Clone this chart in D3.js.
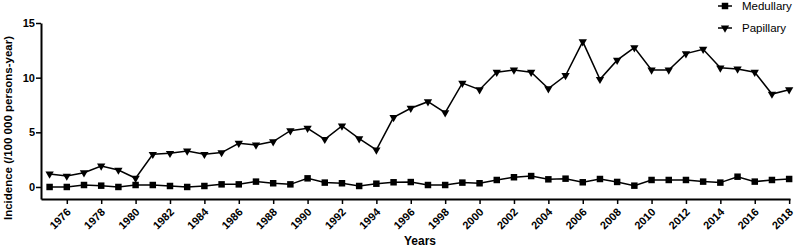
<!DOCTYPE html>
<html>
<head>
<meta charset="utf-8">
<script src="https://cdn.jsdelivr.net/npm/d3@7"></script>
<style>
  body { margin: 0; background: #fff; }
  svg { font-family: "Liberation Sans", Arial, sans-serif; }
</style>
</head>
<body>
<svg id="chart" width="800" height="248"></svg>
<script>
// incidence per 100 000 persons-year
const years = d3.range(1975, 2019)
const medullary = [0, 0, 0.18, 0.12, 0, 0.18, 0.18, 0.09, 0, 0.09,
                   0.24, 0.24, 0.49, 0.34, 0.24, 0.79, 0.4, 0.34, 0.09, 0.3,
                   0.43, 0.45, 0.18, 0.18, 0.4, 0.34, 0.64, 0.89, 1.0, 0.7,
                   0.76, 0.43, 0.73, 0.46, 0.12, 0.64, 0.64, 0.64, 0.49, 0.4,
                   0.94, 0.49, 0.64, 0.73]
const papillary = [1.19, 1.0, 1.3, 1.92, 1.55, 0.8, 2.99, 3.08, 3.29, 2.99,
                   3.15, 4.0, 3.84, 4.15, 5.15, 5.37, 4.36, 5.58, 4.42, 3.39,
                   6.37, 7.2, 7.8, 6.8, 9.5, 8.9, 10.5, 10.7, 10.5, 9.0,
                   10.2, 13.3, 9.85, 11.6, 12.75, 10.7, 10.7, 12.2, 12.6, 10.9,
                   10.8, 10.5, 8.5, 8.9]
const xTicks = d3.range(1976, 2019, 2)
const yTicks = [0, 5, 10, 15]

const svg = d3.select("#chart")

const x = d3.scaleLinear().domain([1974.5, 2018.05]).range([41, 790])
const y = d3.scaleLinear().domain([-1.1, 15]).range([199, 23])

// axes
const xAxis = svg.append("g")
    .attr("transform", "translate(0,199)")
    .call(d3.axisBottom(x).tickValues(xTicks).tickFormat("").tickSize(5).tickSizeOuter(0))
xAxis.select(".domain").attr("stroke-width", 2)
xAxis.selectAll(".tick line").attr("stroke-width", 1.5)

// rotated year labels, ending just under each tick
svg.append("g")
    .selectAll("text")
    .data(xTicks)
    .enter()
    .append("text")
    .attr("transform", d => "translate(" + (x(d) + 2) + ",210) rotate(-45)")
    .attr("text-anchor", "end")
    .attr("dy", "0.35em")
    .attr("font-size", 11)
    .attr("font-weight", "bold")
    .text(d => d)

const yAxis = svg.append("g")
    .attr("transform", "translate(41,0)")
    .call(d3.axisLeft(y).tickValues(yTicks).tickSize(5).tickSizeOuter(0))
yAxis.select(".domain").attr("stroke-width", 2)
yAxis.selectAll(".tick line").attr("stroke-width", 1.5)
yAxis.selectAll(".tick text")
    .attr("font-size", 11)
    .attr("font-weight", "bold")
    .attr("x", -6)

// axis titles
svg.append("text")
    .attr("x", 404)
    .attr("y", 245)
    .attr("font-size", 12)
    .attr("font-weight", "bold")
    .text("Years")

svg.append("text")
    .attr("transform", "translate(12,128) rotate(-90)")
    .attr("text-anchor", "middle")
    .attr("font-size", 11.5)
    .attr("font-weight", "bold")
    .text("Incidence (/100 000 persons-year)")

// series
const series = [
    {name: "Medullary", values: medullary, symbol: d3.symbolSquare, size: 42, rotate: 0},
    {name: "Papillary", values: papillary, symbol: d3.symbolTriangle, size: 30, rotate: 180}
]

const line = d3.line()
    .x((d, i) => x(years[i]))
    .y(d => y(d))

series.forEach(function (s, k) {
    svg.append("path")
        .attr("d", line(s.values))
        .attr("fill", "none")
        .attr("stroke", "#000")
        .attr("stroke-width", 1.5)

    svg.append("g")
        .selectAll("path")
        .data(s.values)
        .enter()
        .append("path")
        .attr("d", d3.symbol().type(s.symbol).size(s.size))
        .attr("transform", (d, i) => "translate(" + x(years[i]) + "," + y(d) + ") rotate(" + s.rotate + ")")
        .attr("fill", "#000")

    // legend
    let ly = 6 + k * 22
    let lg = svg.append("g").attr("transform", "translate(725," + ly + ")")
    lg.append("line")
        .attr("x1", -7).attr("x2", 7)
        .attr("stroke", "#000")
        .attr("stroke-width", 1.5)
    lg.append("path")
        .attr("d", d3.symbol().type(s.symbol).size(s.size))
        .attr("transform", "rotate(" + s.rotate + ")")
    lg.append("text")
        .attr("x", 17)
        .attr("y", 4)
        .attr("font-size", 11.5)
        .text(s.name)
})
</script>
</body>
</html>
